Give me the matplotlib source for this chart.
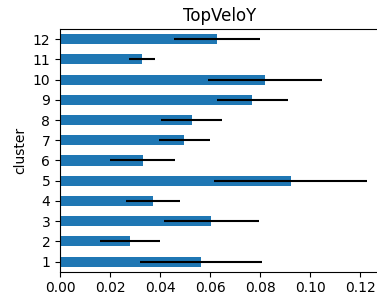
import matplotlib
matplotlib.use("Agg")
import matplotlib.pyplot as plt

clusters = [1, 2, 3, 4, 5, 6, 7, 8, 9, 10, 11, 12]
means = [0.0564, 0.0280, 0.0605, 0.0372, 0.0923, 0.0331,
         0.0497, 0.0527, 0.0769, 0.0820, 0.0327, 0.0627]
errs = [0.0243, 0.0120, 0.0190, 0.0107, 0.0306, 0.0129,
        0.0102, 0.0122, 0.0141, 0.0227, 0.0052, 0.0171]

fig = plt.figure(figsize=(3.77, 2.98), dpi=100)
# axes runs slightly past the right edge, like the cropped reference
ax = fig.add_axes([60 / 377, 26.3 / 298, 324 / 377, 242.7 / 298])

pos = range(len(clusters))
ax.barh(pos, means, height=0.5, color="#1f77b4", xerr=errs,
        error_kw=dict(ecolor="black", elinewidth=1.5, capsize=0))
ax.set_yticks(list(pos))
ax.set_yticklabels([str(c) for c in clusters])
ax.set_ylim(-0.5, len(clusters) - 0.5)
ax.set_xlim(0, 0.12 * 324 / 300)
ax.set_xticks([0.0, 0.02, 0.04, 0.06, 0.08, 0.10, 0.12])
ax.set_xticklabels(["0.00", "0.02", "0.04", "0.06", "0.08", "0.10", "0.12"])
ax.set_ylabel("cluster")
ax.set_title("TopVeloY", x=160 / 324)

fig.savefig("out.png", dpi=100)
